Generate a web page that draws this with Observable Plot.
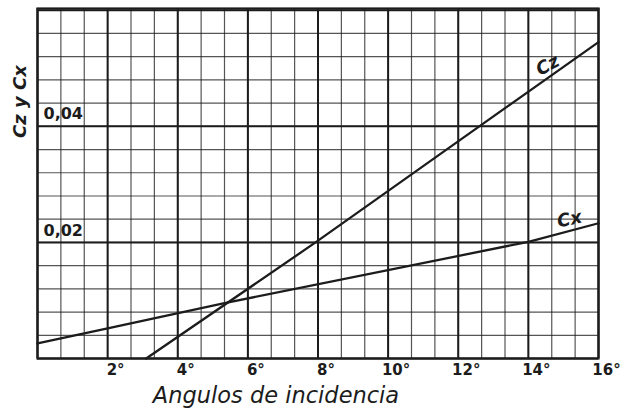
<!DOCTYPE html>
<html><head><meta charset="utf-8">
<script src="https://cdn.jsdelivr.net/npm/d3@7"></script>
<script src="https://cdn.jsdelivr.net/npm/@observablehq/plot@0.6"></script>
<style>body{margin:0;background:#fff;} svg{display:block;}</style>
</head><body><div id="chart"></div>
<script>
// Cz (lift coefficient) line
const czAngles = [3.1, 7.93, 12.6, 16];
const czValues = [0, 0.02, 0.04, 0.0545];
// Cx (drag coefficient) line
const cxAngles = [0, 2, 5.3, 14, 16];
const cxValues = [0.0026, 0.0052, 0.0095, 0.0201, 0.0233];
// axis ticks
const xTicks = [2, 4, 6, 8, 10, 12, 14, 16];
const xTickLabels = ["2°", "4°", "6°", "8°", "10°", "12°", "14°", "16°"];
const yLabelTicks = [0.02, 0.04];
const yTickLabels = ["0,02", "0,04"];
const xMajor = [0, 2, 4, 6, 8, 10, 12, 14, 16];
const yMajor = [0, 0.02, 0.04, 0.06];
const xMinor = d3.range(0, 24.5).map(i => i * 2 / 3);
const yMinor = d3.range(0, 15.5).map(i => i * 0.004);
// series labels
const seriesNames = ["Cz", "Cx"];
const seriesLabelX = [14.55, 15.17];
const seriesLabelY = [0.0505, 0.024];
const seriesLabelRotate = [-28, -12];

const ink = "#1c1c1c";
const font = "DejaVu Sans";

const cz = czAngles.map((a, i) => ({a, v: czValues[i]}));
const cx = cxAngles.map((a, i) => ({a, v: cxValues[i]}));
const labels = seriesNames.map((n, i) => ({n, x: seriesLabelX[i], y: seriesLabelY[i], r: seriesLabelRotate[i]}));

const chart = Plot.plot({
  width: 626,
  height: 411,
  marginLeft: 37,
  marginRight: 28,
  marginTop: 8,
  marginBottom: 53,
  style: {background: "#fff", fontFamily: font, color: ink},
  x: {domain: [0, 16], axis: null},
  y: {domain: [0, 0.0603], axis: null},
  marks: [
    Plot.ruleX(xMinor, {stroke: ink, strokeWidth: 1.2, strokeOpacity: 0.75}),
    Plot.ruleY(yMinor, {stroke: ink, strokeWidth: 1.2, strokeOpacity: 0.75}),
    Plot.ruleX(xMajor, {stroke: ink, strokeWidth: 2}),
    Plot.ruleY(yMajor, {stroke: ink, strokeWidth: 2}),
    Plot.frame({stroke: ink, strokeWidth: 2.2}),
    Plot.line(cz, {x: "a", y: "v", stroke: ink, strokeWidth: 2.3}),
    Plot.line(cx, {x: "a", y: "v", stroke: ink, strokeWidth: 2.3}),
    Plot.text(labels, {x: "x", y: "y", text: "n", rotate: "r", fontSize: 18, fontStyle: "italic", fontWeight: "bold", fill: ink}),
    Plot.text(yLabelTicks, {x: 0, y: d => d, text: (d, i) => yTickLabels[i], textAnchor: "start", dx: 6, dy: -12, fontSize: 16, fontWeight: "bold", fill: ink}),
    Plot.text(xTicks, {x: d => d, y: 0, text: (d, i) => xTickLabels[i], dx: 8, dy: 12, fontSize: 15, fontWeight: "bold", fill: ink}),
    Plot.text(["Angulos de incidencia"], {frameAnchor: "bottom", textAnchor: "middle", lineAnchor: "middle", dx: -42, dy: 37, text: d => d, fontSize: 22.5, fontStyle: "italic", fill: ink}),
    Plot.text(["Cz y Cx"], {frameAnchor: "top-left", textAnchor: "middle", lineAnchor: "middle", rotate: -90, dx: -17, dy: 93, text: d => d, fontSize: 18, fontStyle: "italic", fontWeight: "bold", fill: ink})
  ]
});
document.getElementById("chart").append(chart);
</script>
</body></html>
